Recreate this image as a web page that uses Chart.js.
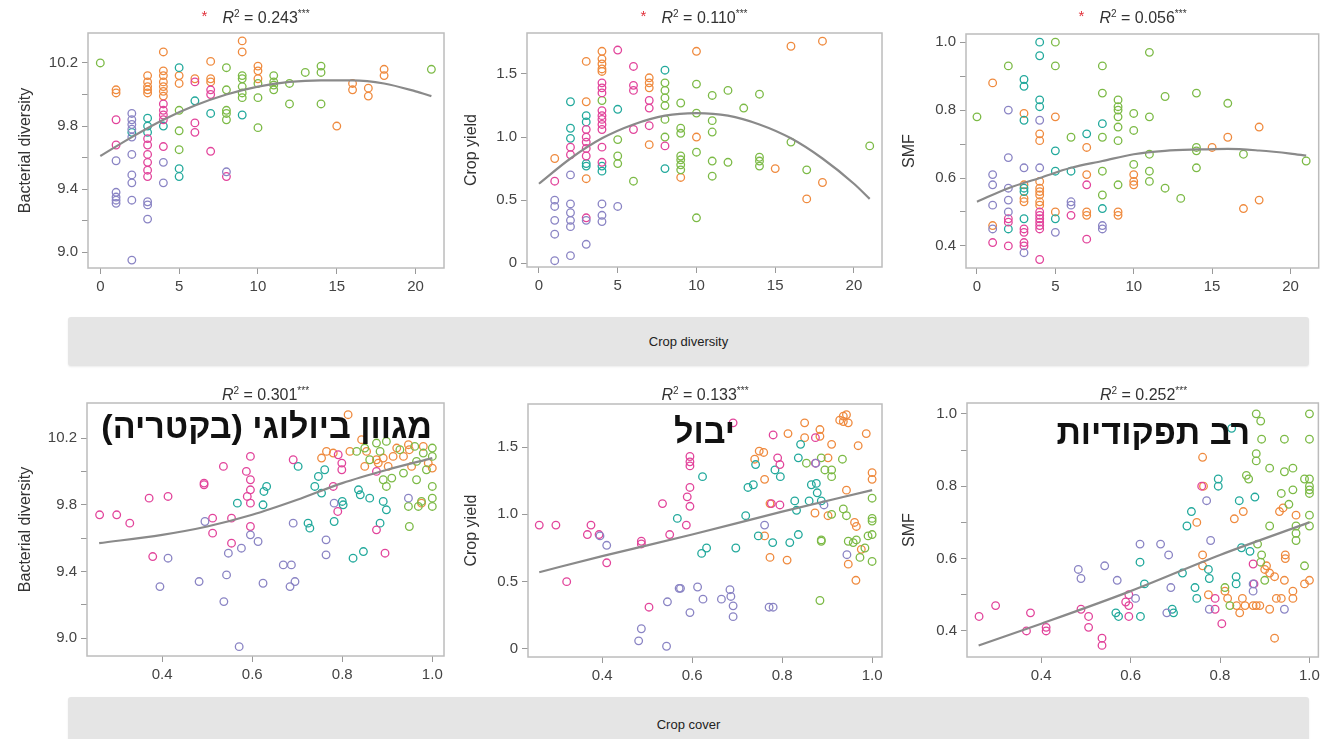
<!DOCTYPE html>
<html>
<head>
<meta charset="utf-8">
<script src="https://cdn.jsdelivr.net/npm/chart.js@4.4.1/dist/chart.umd.min.js"></script>
<style>
  body { margin: 0; background: #fff; }
  #page { position: relative; width: 1324px; height: 739px; overflow: hidden; font-family: "Liberation Sans", Arial, sans-serif; }
  .panel { position: absolute; }
  .ttl { position: absolute; transform: translateX(-50%); font-size: 16px; color: #333; white-space: nowrap; }
  .ttl sup { font-size: 10px; }
  .star { position: absolute; left: -21px; top: -1px; color: #e0303a; font-size: 15px; }
  .banner { position: absolute; left: 68px; width: 1241px; background: #e5e5e5; border-radius: 3px; box-shadow: 0 1px 2px rgba(0,0,0,0.08); font-size: 13px; color: #222; text-align: center; }
  .heb { position: absolute; font-family: "Liberation Sans", "DejaVu Sans", sans-serif; font-weight: bold; font-size: 34px; color: #111; white-space: nowrap; line-height: 40px; }
</style>
</head>
<body>
<div id="page">
  <div class="banner" style="top:317px;height:49px;line-height:49px;">Crop diversity</div>
  <div class="banner" style="top:697px;height:56px;line-height:56px;">Crop cover</div>
</div>
<script>
// tick values / labels
const divTicks = [0, 5, 10, 15, 20];
const divTickLabels = ['0', '5', '10', '15', '20'];
const covTicks = [0.4, 0.6, 0.8, 1.0];
const covTickLabels = ['0.4', '0.6', '0.8', '1.0'];
const bactTicks = [9.0, 9.2, 9.4, 9.6, 9.8, 10.0, 10.2];
const bactTickLabels = ['9.0', '', '9.4', '', '9.8', '', '10.2'];
const yieldTicks = [0, 0.5, 1.0, 1.5];
const yieldTickLabels = ['0', '0.5', '1.0', '1.5'];
const smfTicks = [0.4, 0.5, 0.6, 0.7, 0.8, 0.9, 1.0];
const smfTickLabels = ['0.4', '', '0.6', '', '0.8', '', '1.0'];

const r2Top = ['0.243', '0.110', '0.056'];
const r2Bottom = ['0.301', '0.133', '0.252'];

// crop diversity vs bacterial diversity
const divBactPurple = [[1,9.58],[1,9.38],[1,9.35],[1,9.33],[1,9.31],[2,9.88],[2,9.84],[2,9.81],[2,9.78],[2,9.73],[2,9.62],[2,9.49],[2,9.44],[2,9.33],[2,8.95],[3,9.32],[3,9.30],[3,9.21],[4,9.57],[4,9.44],[8,9.51]];
const divBactPink = [[1,9.84],[1,9.68],[3,9.72],[3,9.68],[3,9.62],[3,9.57],[3,9.52],[3,9.48],[4,9.94],[4,9.9],[4,9.87],[4,9.84],[4,9.67],[6,10.08],[6,9.82],[6,9.76],[7,10.03],[7,10.0],[7,9.64],[8,9.48]];
const divBactTeal = [[2,9.76],[3,9.85],[3,9.8],[3,9.76],[4,9.8],[5,10.17],[5,9.53],[5,9.48],[6,9.96],[7,9.88],[9,9.87]];
const divBactGreen = [[0,10.2],[5,9.9],[5,9.77],[5,9.65],[8,10.17],[8,10.03],[8,9.9],[8,9.88],[8,9.84],[9,10.12],[9,10.1],[9,10.05],[9,10.01],[9,9.98],[10,10.07],[10,9.98],[10,9.79],[11,10.12],[11,10.08],[11,10.06],[11,10.03],[12,10.07],[12,9.94],[13,10.14],[14,10.18],[14,10.14],[14,9.94],[21,10.16]];
const divBactOrange = [[1,10.03],[1,10.01],[3,10.12],[3,10.08],[3,10.05],[3,10.03],[3,10.01],[4,10.27],[4,10.15],[4,10.12],[4,10.08],[4,10.05],[4,10.02],[4,9.99],[5,10.12],[5,10.07],[6,10.1],[7,10.21],[7,10.1],[7,10.08],[9,10.34],[9,10.27],[10,10.18],[10,10.15],[10,10.1],[15,9.8],[16,10.07],[16,10.03],[17,10.04],[17,9.99],[18,10.16],[18,10.12]];
const divBactFit = [[0,9.61],[2,9.73],[4,9.84],[6,9.93],[8,10.0],[10,10.05],[12,10.08],[14,10.09],[16,10.09],[18,10.07],[20,10.02],[21,9.99]];

// crop diversity vs crop yield
const divYieldPurple = [[1,0.5],[1,0.45],[1,0.34],[1,0.23],[1,0.02],[2,0.7],[2,0.47],[2,0.4],[2,0.34],[2,0.29],[2,0.06],[3,0.34],[3,0.15],[4,0.47],[4,0.38],[4,0.33],[5,0.45]];
const divYieldPink = [[1,0.65],[2,0.92],[2,0.86],[3,1.06],[3,1.0],[3,0.96],[3,0.91],[3,0.85],[3,0.36],[4,1.43],[4,1.39],[4,1.35],[4,1.21],[4,1.17],[4,1.14],[4,1.10],[4,1.06],[4,0.92],[4,0.8],[5,1.69],[6,1.56],[6,1.41],[6,1.37],[6,1.06],[7,1.29],[7,1.23],[7,1.09],[8,0.93]];
const divYieldTeal = [[2,1.28],[2,1.07],[2,0.99],[3,1.17],[3,1.12],[3,0.79],[3,0.77],[4,0.77],[4,0.73],[5,1.22],[8,1.53],[8,0.75]];
const divYieldGreen = [[4,1.29],[5,0.98],[5,0.85],[5,0.79],[6,0.65],[8,1.43],[8,1.37],[8,1.31],[8,1.25],[8,1.14],[8,1.0],[9,1.27],[9,1.07],[9,1.03],[9,0.85],[9,0.82],[9,0.78],[9,0.74],[10,1.42],[10,1.19],[10,0.88],[10,0.36],[11,1.33],[11,1.13],[11,1.04],[11,0.81],[11,0.69],[12,1.37],[12,0.8],[13,1.23],[14,1.34],[14,0.84],[14,0.81],[14,0.77],[16,0.96],[17,0.74],[21,0.93]];
const divYieldOrange = [[1,0.83],[3,1.6],[3,1.28],[3,0.67],[4,1.68],[4,1.62],[4,1.58],[4,1.54],[4,1.52],[7,1.47],[7,1.43],[7,1.39],[7,0.94],[9,0.68],[10,1.68],[10,1.0],[15,0.75],[16,1.72],[17,0.51],[18,1.76],[18,0.64]];
const divYieldFit = [[0,0.63],[2,0.83],[4,0.99],[6,1.10],[8,1.17],[10,1.19],[12,1.17],[14,1.10],[16,0.99],[18,0.83],[20,0.63],[21,0.51]];

// crop diversity vs SMF
const divSmfPurple = [[1,0.61],[1,0.58],[1,0.52],[1,0.45],[2,0.8],[2,0.66],[2,0.57],[2,0.535],[2,0.5],[3,0.63],[3,0.38],[4,0.77],[4,0.63],[5,0.44],[6,0.53],[6,0.52],[8,0.46],[8,0.45]];
const divSmfPink = [[1,0.41],[2,0.48],[2,0.47],[2,0.40],[3,0.45],[3,0.44],[3,0.41],[3,0.4],[4,0.5],[4,0.49],[4,0.48],[4,0.47],[4,0.46],[4,0.45],[4,0.36],[6,0.49],[7,0.58],[7,0.42]];
const divSmfTeal = [[2,0.45],[3,0.89],[3,0.87],[3,0.77],[3,0.57],[3,0.56],[3,0.48],[4,1.0],[4,0.96],[4,0.83],[4,0.81],[5,0.68],[5,0.62],[5,0.48],[6,0.62],[7,0.73],[8,0.76],[8,0.51]];
const divSmfGreen = [[0,0.78],[2,0.93],[5,1.0],[5,0.93],[6,0.72],[8,0.93],[8,0.85],[8,0.72],[8,0.62],[8,0.55],[9,0.83],[9,0.81],[9,0.8],[9,0.78],[9,0.75],[9,0.71],[9,0.58],[10,0.79],[10,0.74],[10,0.64],[11,0.97],[11,0.78],[11,0.67],[11,0.62],[11,0.59],[12,0.84],[12,0.57],[13,0.54],[14,0.85],[14,0.69],[14,0.68],[14,0.63],[16,0.82],[17,0.67],[21,0.65]];
const divSmfOrange = [[1,0.88],[1,0.46],[3,0.79],[3,0.58],[3,0.54],[3,0.53],[4,0.73],[4,0.71],[4,0.59],[4,0.57],[4,0.56],[4,0.55],[4,0.53],[4,0.52],[5,0.78],[5,0.5],[7,0.69],[7,0.61],[7,0.5],[7,0.49],[9,0.5],[9,0.49],[10,0.61],[10,0.59],[10,0.58],[15,0.69],[16,0.72],[17,0.51],[18,0.75],[18,0.535]];
const divSmfFit = [[0,0.53],[2,0.57],[4,0.60],[6,0.63],[8,0.65],[10,0.67],[12,0.68],[14,0.684],[16,0.686],[18,0.681],[20,0.672],[21,0.666]];

// crop cover vs bacterial diversity
const covBactPink = [[0.261,9.74],[0.299,9.74],[0.328,9.69],[0.371,9.84],[0.413,9.85],[0.379,9.49],[0.493,9.93],[0.493,9.92],[0.512,9.72],[0.512,9.63],[0.536,10.03],[0.554,9.72],[0.554,9.57],[0.596,10.09],[0.587,10.0],[0.596,9.95],[0.596,9.89],[0.589,9.85],[0.596,9.81],[0.596,9.67],[0.691,10.07],[0.791,10.1],[0.799,10.05],[0.799,10.01],[0.78,9.91],[0.79,9.76],[0.876,9.65],[0.895,9.51],[0.876,10.0]];
const covBactPurple = [[0.495,9.7],[0.547,9.51],[0.576,9.54],[0.596,9.62],[0.613,9.58],[0.482,9.34],[0.413,9.48],[0.395,9.31],[0.543,9.38],[0.537,9.22],[0.571,8.95],[0.624,9.33],[0.669,9.44],[0.687,9.44],[0.684,9.31],[0.695,9.34],[0.691,9.69],[0.764,9.59],[0.764,9.5],[0.782,9.81],[0.947,9.84]];
const covBactTeal = [[0.567,9.81],[0.624,9.8],[0.626,9.88],[0.632,9.91],[0.724,9.69],[0.728,9.66],[0.739,9.91],[0.747,9.97],[0.754,9.87],[0.782,9.7],[0.8,9.82],[0.802,9.8],[0.824,9.48],[0.847,9.52],[0.836,9.89],[0.84,9.86],[0.861,9.84],[0.884,9.69],[0.891,9.82],[0.898,9.77],[0.702,10.03],[0.761,10.01]];
const covBactGreen = [[0.949,9.67],[0.947,9.79],[0.976,9.82],[0.969,9.79],[1.0,9.91],[1.0,9.84],[1.0,9.79],[0.891,9.95],[0.898,9.91],[0.91,9.96],[0.936,9.99],[0.965,9.95],[0.987,10.01],[0.876,10.17],[0.898,10.18],[0.884,10.12],[0.928,10.13],[0.961,10.15],[0.98,10.11],[1.0,10.14],[1.0,10.09],[0.85,10.14],[0.832,10.12],[0.861,10.07],[0.965,10.06]];
const covBactOrange = [[0.754,10.08],[0.765,10.12],[0.78,10.11],[0.813,10.34],[0.817,10.12],[0.843,10.19],[0.85,10.03],[0.854,10.12],[0.876,10.07],[0.88,10.05],[0.891,10.08],[0.913,10.09],[0.921,10.14],[0.936,10.09],[0.947,10.16],[0.949,10.13],[0.954,10.03],[0.976,9.81],[0.991,10.05],[1.0,10.02],[0.902,10.03],[0.98,10.15]];
const covBactFit = [[0.26,9.57],[0.4,9.62],[0.5,9.67],[0.6,9.74],[0.7,9.83],[0.8,9.93],[0.9,10.01],[1.0,10.08]];

// crop cover vs crop yield
const covYieldPink = [[0.26,0.92],[0.297,0.92],[0.321,0.5],[0.367,0.85],[0.375,0.92],[0.393,0.85],[0.41,0.64],[0.487,0.8],[0.487,0.78],[0.504,0.31],[0.534,1.08],[0.55,0.85],[0.587,0.92],[0.589,1.13],[0.595,1.2],[0.595,1.43],[0.595,1.39],[0.595,1.36],[0.595,1.06],[0.691,1.68],[0.78,1.59],[0.79,1.42],[0.795,1.37],[0.874,1.57],[0.874,1.38],[0.776,1.08],[0.795,1.07]];
const covYieldPurple = [[0.395,0.84],[0.41,0.77],[0.487,0.15],[0.481,0.06],[0.543,0.02],[0.545,0.35],[0.571,0.45],[0.574,0.45],[0.595,0.27],[0.612,0.46],[0.624,0.37],[0.665,0.37],[0.684,0.44],[0.686,0.39],[0.691,0.32],[0.691,0.24],[0.761,0.92],[0.771,0.31],[0.78,0.31],[0.875,1.38],[0.893,1.07],[0.944,0.7]];
const covYieldTeal = [[0.567,0.97],[0.623,1.28],[0.621,0.71],[0.632,0.75],[0.697,0.75],[0.719,0.99],[0.724,1.2],[0.736,1.22],[0.747,0.84],[0.741,1.37],[0.779,0.79],[0.796,1.28],[0.817,0.79],[0.828,1.1],[0.832,1.03],[0.836,0.85],[0.841,1.52],[0.836,1.42],[0.86,1.1],[0.865,1.22],[0.876,1.23],[0.878,1.16],[0.887,1.1],[0.784,1.33]];
const covYieldGreen = [[0.887,0.81],[0.887,0.8],[0.884,0.36],[0.895,1.33],[0.91,1.33],[0.91,1.28],[0.91,1.0],[0.934,1.41],[0.936,1.04],[0.943,0.99],[0.947,0.8],[0.958,0.79],[0.965,0.81],[0.973,0.68],[0.984,0.75],[0.991,0.84],[1.0,1.12],[1.0,0.97],[1.0,0.95],[1.0,0.85],[1.0,0.65],[0.887,1.42],[0.854,1.38]];
const covYieldOrange = [[0.739,1.41],[0.749,1.47],[0.759,1.46],[0.761,1.26],[0.761,0.84],[0.773,0.68],[0.773,1.08],[0.811,0.66],[0.813,1.6],[0.85,1.68],[0.85,1.57],[0.873,1.01],[0.884,1.63],[0.884,1.58],[0.902,1.42],[0.91,1.52],[0.928,1.7],[0.936,1.73],[0.943,1.74],[0.947,1.68],[0.936,1.69],[0.969,1.51],[0.987,1.6],[1.0,1.31],[1.0,1.26],[0.943,1.18],[0.961,0.94],[0.965,0.91],[0.947,0.63],[0.964,0.51],[0.976,0.74],[0.902,0.99]];
const covYieldFit = [[0.26,0.57],[0.4,0.69],[0.6,0.85],[0.8,1.02],[1.0,1.18]];

// crop cover vs SMF
const covSmfPink = [[0.261,0.44],[0.298,0.47],[0.367,0.40],[0.376,0.45],[0.411,0.41],[0.411,0.40],[0.489,0.46],[0.506,0.44],[0.506,0.41],[0.536,0.38],[0.536,0.36],[0.589,0.48],[0.596,0.5],[0.596,0.47],[0.596,0.44],[0.789,0.46],[0.804,0.42],[0.759,0.8],[0.874,0.585],[0.876,0.53],[0.789,0.49]];
const covSmfPurple = [[0.483,0.57],[0.489,0.545],[0.542,0.58],[0.57,0.54],[0.621,0.64],[0.611,0.49],[0.667,0.64],[0.685,0.61],[0.69,0.52],[0.681,0.45],[0.77,0.76],[0.779,0.65],[0.776,0.46],[0.874,0.53],[0.944,0.46],[0.874,0.51]];
const covSmfTeal = [[0.567,0.45],[0.573,0.44],[0.622,0.44],[0.621,0.59],[0.631,0.53],[0.693,0.46],[0.696,0.45],[0.716,0.56],[0.726,0.69],[0.736,0.73],[0.744,0.52],[0.748,0.49],[0.774,0.57],[0.776,0.545],[0.796,0.82],[0.796,0.8],[0.836,0.53],[0.836,0.55],[0.843,0.76],[0.826,0.96],[0.848,0.63],[0.867,0.62],[0.878,0.77]];
const covSmfGreen = [[0.881,1.0],[0.891,0.98],[0.893,0.93],[0.881,0.89],[0.881,0.87],[0.859,0.83],[0.864,0.82],[0.911,0.85],[0.944,0.84],[0.963,0.85],[0.944,0.93],[0.937,0.78],[0.963,0.79],[0.954,0.75],[0.989,0.82],[1.0,0.82],[1.0,0.8],[1.0,0.79],[1.0,0.78],[1.0,1.0],[1.0,0.93],[1.0,0.72],[1.0,0.69],[0.97,0.69],[0.97,0.67],[0.97,0.65],[0.911,0.69],[0.884,0.64],[0.893,0.61],[0.891,0.59],[0.9,0.54],[0.822,0.47],[0.811,0.52],[0.989,0.58]];
const covSmfOrange = [[0.761,0.88],[0.763,0.8],[0.748,0.7],[0.761,0.61],[0.761,0.58],[0.774,0.5],[0.811,0.51],[0.817,0.49],[0.832,0.71],[0.852,0.73],[0.837,0.47],[0.844,0.45],[0.85,0.49],[0.856,0.47],[0.874,0.47],[0.881,0.47],[0.889,0.47],[0.9,0.57],[0.911,0.56],[0.922,0.55],[0.911,0.46],[0.922,0.38],[0.926,0.49],[0.937,0.49],[0.933,0.73],[0.941,0.74],[0.946,0.61],[0.946,0.6],[0.944,0.54],[0.963,0.51],[0.963,0.49],[0.97,0.72],[0.989,0.53],[1.0,0.54],[0.904,0.58]];
const covSmfFit = [[0.26,0.36],[0.4,0.42],[0.6,0.51],[0.8,0.61],[1.0,0.70]];

const COLORS = { purple: '#8a84c4', pink: '#e2449b', teal: '#22a99c', green: '#7cba46', orange: '#ef8a3e' };

// light grey box around the plot area
const framePlugin = {
  id: 'frame',
  beforeDatasetsDraw(chart) {
    const { ctx, chartArea: a } = chart;
    ctx.save();
    ctx.strokeStyle = '#bcbcbc';
    ctx.lineWidth = 1.5;
    ctx.strokeRect(a.left, a.top, a.right - a.left, a.bottom - a.top);
    ctx.restore();
  }
};

const toXY = arr => arr.map(p => ({ x: p[0], y: p[1] }));

function makePanel(p) {
  const page = document.getElementById('page');
  const div = document.createElement('div');
  div.className = 'panel';
  div.style.left = p.box[0] + 'px';
  div.style.top = p.box[1] + 'px';
  const canvas = document.createElement('canvas');
  canvas.width = p.box[2];
  canvas.height = p.box[3];
  div.appendChild(canvas);
  page.appendChild(div);

  const yWidth = p.area[0] - p.box[0];
  const xHeight = p.box[1] + p.box[3] - p.area[3];

  const datasets = [{
    type: 'line',
    data: toXY(p.fit),
    borderColor: '#8a8a8a',
    borderWidth: 2.2,
    pointRadius: 0,
    cubicInterpolationMode: 'monotone',
    fill: false
  }];
  Object.keys(p.groups).forEach(k => {
    datasets.push({
      data: toXY(p.groups[k]),
      borderColor: COLORS[k],
      backgroundColor: 'rgba(0,0,0,0)',
      pointRadius: 3.8,
      borderWidth: 1.3
    });
  });

  const tickFont = { family: '"Liberation Sans", Arial, sans-serif', size: 15 };

  new Chart(canvas.getContext('2d'), {
    type: 'scatter',
    data: { datasets },
    options: {
      responsive: false,
      animation: false,
      layout: { padding: { top: p.area[1] - p.box[1], right: p.box[0] + p.box[2] - p.area[2], left: 0, bottom: 0 } },
      plugins: { legend: { display: false }, tooltip: { enabled: false } },
      scales: {
        x: {
          min: p.xRange[0], max: p.xRange[1],
          afterBuildTicks: axis => { axis.ticks = p.xTicks.map(v => ({ value: v })); },
          afterFit: axis => { axis.height = xHeight; },
          ticks: { color: '#444', font: tickFont, padding: 4, maxRotation: 0, autoSkip: false,
                   callback: (v, i) => p.xLabels[i] },
          grid: { drawOnChartArea: false, drawTicks: true, tickLength: 6, color: '#999' },
          border: { display: false }
        },
        y: {
          min: p.yRange[0], max: p.yRange[1],
          afterBuildTicks: axis => { axis.ticks = p.yTicks.map(v => ({ value: v })); },
          afterFit: axis => { axis.width = yWidth; },
          ticks: { color: '#444', font: tickFont, padding: 4, autoSkip: false,
                   callback: (v, i) => p.yLabels[i] },
          grid: { drawOnChartArea: false, drawTicks: true, tickLength: 6, color: '#999' },
          border: { display: false },
          title: { display: true, text: p.yTitle, color: '#333',
                   font: { family: '"Liberation Sans", Arial, sans-serif', size: 16 },
                   padding: { top: 16, bottom: 0 } }
        }
      }
    },
    plugins: [framePlugin]
  });

  // R² title above the plot
  const t = document.createElement('div');
  t.className = 'ttl';
  t.style.left = ((p.area[0] + p.area[2]) / 2) + 'px';
  t.style.top = p.titleTop + 'px';
  t.innerHTML = (p.star ? '<span class="star">*</span>' : '') +
    '<i>R</i><sup>2</sup> = ' + p.r2 + '<sup>***</sup>';
  page.appendChild(t);
}

makePanel({ box: [0, 0, 456, 300], area: [88, 33, 444, 268], xRange: [-0.78, 21.8], yRange: [8.9, 10.39],
  xTicks: divTicks, xLabels: divTickLabels, yTicks: bactTicks, yLabels: bactTickLabels, yTitle: 'Bacterial diversity',
  groups: { purple: divBactPurple, pink: divBactPink, teal: divBactTeal, green: divBactGreen, orange: divBactOrange },
  fit: divBactFit, r2: r2Top[0], star: true, titleTop: 8 });
makePanel({ box: [446, 0, 448, 300], area: [527, 33, 882, 267], xRange: [-0.76, 21.78], yRange: [-0.03, 1.825],
  xTicks: divTicks, xLabels: divTickLabels, yTicks: yieldTicks, yLabels: yieldTickLabels, yTitle: 'Crop yield',
  groups: { purple: divYieldPurple, pink: divYieldPink, teal: divYieldTeal, green: divYieldGreen, orange: divYieldOrange },
  fit: divYieldFit, r2: r2Top[1], star: true, titleTop: 8 });
makePanel({ box: [884, 0, 440, 300], area: [966, 34, 1320, 268], xRange: [-0.7, 21.8], yRange: [0.335, 1.024],
  xTicks: divTicks, xLabels: divTickLabels, yTicks: smfTicks, yLabels: smfTickLabels, yTitle: 'SMF',
  groups: { purple: divSmfPurple, pink: divSmfPink, teal: divSmfTeal, green: divSmfGreen, orange: divSmfOrange },
  fit: divSmfFit, r2: r2Top[2], star: true, titleTop: 8 });

makePanel({ box: [0, 370, 456, 320], area: [87, 403, 444, 656], xRange: [0.233, 1.026], yRange: [8.894, 10.41],
  xTicks: covTicks, xLabels: covTickLabels, yTicks: bactTicks, yLabels: bactTickLabels, yTitle: 'Bacterial diversity',
  groups: { purple: covBactPurple, pink: covBactPink, teal: covBactTeal, green: covBactGreen, orange: covBactOrange },
  fit: covBactFit, r2: r2Bottom[0], star: false, titleTop: 385 });
makePanel({ box: [446, 370, 448, 320], area: [528, 404, 882, 657], xRange: [0.235, 1.022], yRange: [-0.06, 1.82],
  xTicks: covTicks, xLabels: covTickLabels, yTicks: yieldTicks, yLabels: yieldTickLabels, yTitle: 'Crop yield',
  groups: { purple: covYieldPurple, pink: covYieldPink, teal: covYieldTeal, green: covYieldGreen, orange: covYieldOrange },
  fit: covYieldFit, r2: r2Bottom[1], star: false, titleTop: 385 });
makePanel({ box: [884, 370, 440, 320], area: [967, 403, 1320, 657], xRange: [0.234, 1.02], yRange: [0.328, 1.03],
  xTicks: covTicks, xLabels: covTickLabels, yTicks: smfTicks, yLabels: smfTickLabels, yTitle: 'SMF',
  groups: { purple: covSmfPurple, pink: covSmfPink, teal: covSmfTeal, green: covSmfGreen, orange: covSmfOrange },
  fit: covSmfFit, r2: r2Bottom[2], star: false, titleTop: 385 });

// Hebrew captions laid over the lower panels
const hebLabels = [
  { text: 'מגוון ביולוגי (בקטריה)', right: 432, top: 406 },
  { text: 'יבול', right: 735, top: 411 },
  { text: 'רב תפקודיות', right: 1250, top: 412 }
];
hebLabels.forEach(h => {
  const d = document.createElement('div');
  d.className = 'heb';
  d.dir = 'rtl';
  d.style.right = (1324 - h.right) + 'px';
  d.style.top = h.top + 'px';
  d.textContent = h.text;
  document.getElementById('page').appendChild(d);
});
</script>
</body>
</html>
